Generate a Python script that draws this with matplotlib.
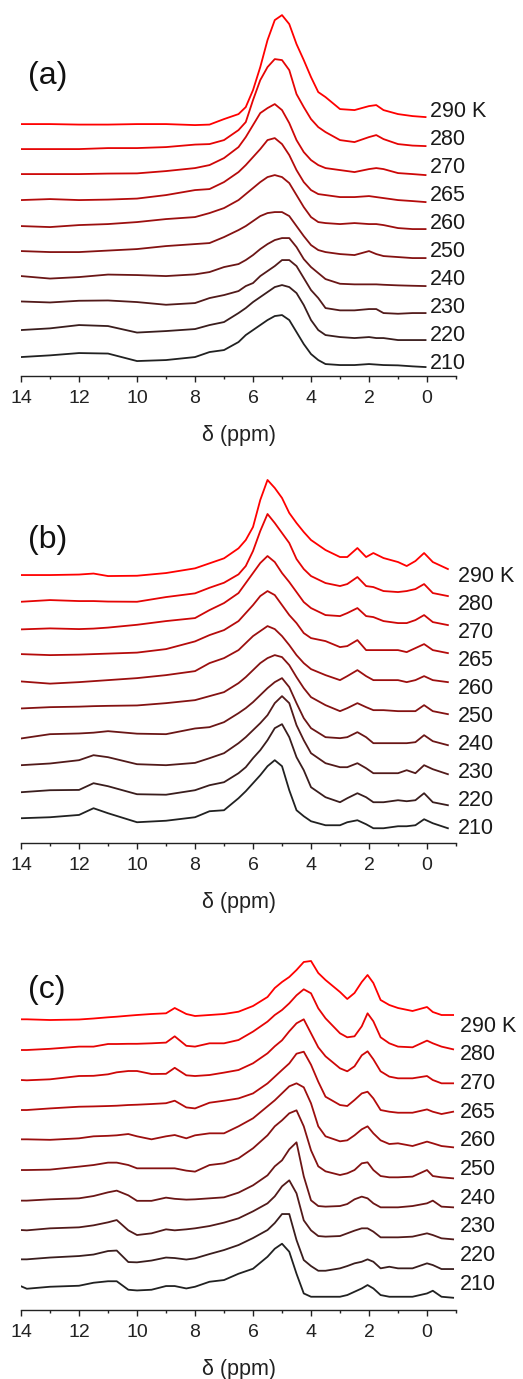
import matplotlib
matplotlib.use('Agg')
import matplotlib.pyplot as plt
from matplotlib.ticker import MultipleLocator

plt.rcParams['font.family'] = ['Liberation Sans', 'DejaVu Sans']

temps = ['210', '220', '230', '240', '250', '260', '265', '270', '280', '290 K']

# ---- panel (a) ----
ppm_a = [14, 13, 12, 11, 10, 9, 8, 7.5, 7, 6.5, 6.25, 6, 5.75, 5.5, 5.25, 5, 4.75,
         4.5, 4.25, 4, 3.75, 3.5, 3, 2.5, 2, 1.75, 1.5, 1, 0.5, 0.05]
base_a = [9, 36, 63, 90, 118, 147, 174, 201, 230, 259]
spec_a = [
    [10, 11.7, 14, 13.5, 6, 7, 10, 15, 17, 25, 32, 37, 42, 47, 51, 52, 47, 35, 23, 13, 7, 3, 2, 2, 3, 2.5, 2, 1.7, 0.7, 0],
    [10, 11.7, 15, 14, 7.5, 9, 11, 15, 18, 27, 32, 38, 43, 48, 53, 55, 53, 47, 35, 20, 10, 5, 3, 2, 3, 2, 2, 0, 0, 0],
    [11.6, 10.6, 12.3, 12.6, 11, 8.3, 10, 15, 18, 22, 27, 30, 37, 42, 47, 53, 53, 47, 35, 23, 15, 5, 2.7, 2.7, 4, 4, 0, -0.7, 0, 0],
    [10, 7.5, 9, 11.5, 11, 10, 11.7, 14, 19, 22, 26, 31, 37, 42, 46, 48, 48, 39, 27, 19, 13, 7, 2.3, 1.7, 1.7, 1.7, 1.3, 0.7, 0.3, 0],
    [7, 6, 6, 7.5, 9, 12, 14, 15, 21, 28, 32, 37, 42, 45, 46, 46, 42, 32, 22, 13, 8, 6, 4, 3, 7, 4, 2, 1, 0, 0],
    [3, 2, 4, 5, 7, 10, 12, 16, 21, 29, 35, 41, 47, 52, 54, 52, 46, 34, 22, 12, 7, 6, 5, 6, 5, 5, 4, 1, 0, 0],
    [2, 3, 2, 2.5, 3.5, 7, 12, 13, 20, 30, 37, 45, 53, 62, 64, 58, 47, 32, 20, 12, 8, 7, 5, 5, 6, 5, 4, 2, 1, 0],
    [1, 1, 1, 1.5, 1.7, 4, 7, 10, 17, 28, 38, 50, 62, 67, 71, 65, 52, 35, 23, 15, 10, 7, 5, 3, 6, 7, 6, 2, 1, 0],
    [-3, -3, -3, -2, -2, -1, 1.5, 2, 6, 16, 24, 46, 66, 79, 87, 86, 76, 52, 39, 27, 19, 14, 6, 4, 9, 11, 7, 2, 0.5, 0],
    [-7, -7, -7.5, -7.5, -7, -7, -8, -7.5, -2, 3, 10, 27, 50, 77, 97, 102, 93, 73, 57, 40, 25, 20, 8, 7, 11, 12, 7, 3, 1, 0],
]

# ---- panel (b) ----
ppm_b = [14, 13, 12, 11.5, 11, 10, 9, 8, 7.5, 7, 6.5, 6.25, 6, 5.75, 5.5, 5.25, 5,
         4.75, 4.5, 4.25, 4, 3.5, 3, 2.75, 2.4, 2.1, 1.85, 1.5, 1, 0.7, 0.4, 0.1, -0.2, -0.72]
base_b = [15, 38, 69, 98, 129, 161, 190, 218, 247, 274]
spec_b = [
    [10, 11, 13.3, 20, 15, 6, 7.5, 11, 17, 18, 30, 37, 45, 53, 62, 68, 62, 38, 18, 12, 7, 3, 3, 6, 8, 4, 0, 0, 2, 2, 3, 9, 5, 0],
    [13, 15, 15.3, 22, 19, 11, 10.5, 15, 20, 23, 32, 38, 47, 55, 65, 77, 81, 68, 48, 35, 18, 8, 3, 7, 12, 8, 3, 3, 5, 4, 5, 12, 3, 0],
    [9, 10.7, 14, 19, 17, 10, 9, 11.3, 16, 21, 31, 37, 44, 51, 59, 71, 78, 71, 49, 34, 21, 11, 7, 7, 11, 6, 1, 1, 1, 4, 1, 9, 5, 0],
    [6.7, 11, 11.7, 12.5, 14, 11.5, 11, 16.7, 18, 23, 32, 37, 43, 50, 57, 63, 67, 58, 42, 27, 17, 8, 7, 8, 13, 8, 2, 2, 2, 2, 3, 10, 4, 0],
    [5.7, 7, 7.5, 8, 8.3, 8.7, 11, 14, 18, 22, 31, 37, 44, 51, 56, 59, 57, 49, 37, 26, 17, 9, 3, 6, 11, 7, 4, 4, 3, 3, 3, 9, 3, 0],
    [0.7, -1.5, 0, 1, 2, 4, 7, 11, 19, 24, 32, 39, 46, 51, 56, 53, 46, 37, 27, 19, 13, 7, 2, 6, 12, 6, 2, 2, 2, 0, 2, 6, 2, 0],
    [-1, -2, -1.5, -1, -0.5, 0.5, 4, 11.7, 18, 23, 32, 40, 48, 57, 62, 58, 48, 38, 30, 20, 15, 12, 6, 7, 13, 3, 3, 3, 3, 1, 5, 9, 3, 0],
    [-4.3, -3.3, -4, -3.5, -2.5, 0.3, 4, 7, 15, 22, 32, 42, 52, 62, 69, 63, 52, 43, 33, 23, 17, 10, 9, 12, 17, 9, 8, 4, 2, 2, 5, 10, 3, 0],
    [-5.7, -4, -5, -5, -5.5, -5.7, -1, 2.7, 8.3, 13.3, 21.7, 30, 45, 65, 82, 73, 63, 53, 37, 27, 20, 13, 10, 12, 19, 10, 9, 5, 4, 5, 7, 12, 3, 0],
    [-6, -6, -5.5, -4.5, -7, -6.7, -4, 0.7, 5.7, 10.7, 20.7, 29, 42, 69, 89, 81, 71, 56, 46, 37, 29, 19, 12, 12, 21, 12, 16, 11, 7, 3, 8, 16, 7, 0],
]

# ---- panel (c) ----
ppm_c = [14, 13.8, 13, 12, 11.5, 11, 10.7, 10.3, 10, 9.5, 9, 8.7, 8.3, 8, 7.5, 7, 6.5, 6,
         5.5, 5.25, 5, 4.75, 4.5, 4.25, 4, 3.75, 3.5, 3, 2.75, 2.5, 2.25, 2.05, 1.85, 1.6,
         1.3, 1, 0.5, 0, -0.2, -0.5, -0.9]
base_c = [12.3, 41, 70.7, 102.7, 131.7, 162.7, 198.3, 226.7, 260.7, 295]
spec_c = [
    [11.5, 9, 11, 12, 15, 16.5, 16.5, 8, 7.3, 8, 11.7, 11.7, 9.3, 11, 16, 17.7, 24, 29, 41, 49, 54, 46, 24, 4.3, 1, 1, 1, 1, 2.7, 6, 9.3, 12.7, 9.3, 2.7, 1, 1, 1, 4.3, 7, 1, 0],
    [9.7, 9.7, 11.5, 13, 14.5, 18, 18.5, 7, 6.7, 8.5, 11.5, 11, 9.5, 10.7, 15, 19, 24, 31, 39, 46, 55, 55, 29, 9, 3, -1.7, -1.7, 0.7, 3, 5.7, 7.3, 9.7, 7.3, 0.7, 2.3, 0.7, 0.7, 5.7, 4, 0, 0],
    [9.3, 9, 11, 12, 14, 17, 19.3, 9, 4.3, 6, 10, 9, 10, 11, 13.3, 16.7, 21, 28, 36, 43, 53, 59, 46, 19, 9, 3.3, 2.7, 3.3, 6, 8.7, 11, 11, 7.7, 2, 2, 2, 2.7, 6, 4.3, 1, 0],
    [6.7, 6.7, 8, 9, 11.3, 15, 16.7, 12, 6.5, 6.5, 9.7, 8.5, 7.7, 8, 9, 10, 14.7, 22, 32, 41, 47, 58, 65, 31, 7, 1.3, 0.7, 1.3, 3.3, 8, 10.7, 9, 4, 0, 0, 0, 1.3, 4, 6.7, 0.7, 0],
    [8.3, 8.3, 8.7, 11.7, 13.3, 15.7, 15.7, 13.3, 10, 10, 10, 10, 7.7, 6.7, 13.3, 15, 20, 30, 43, 52, 58, 65, 68, 52, 28, 12, 7, 3.3, 5, 8.3, 15, 16, 8.3, 2.3, 1, 1, 1.7, 8.3, 2.3, 1, 0],
    [8, 8, 7.5, 9, 11, 11.5, 12, 13.3, 11, 8, 11, 12.3, 9, 12, 14, 14, 21, 29, 41, 47, 54, 61, 64, 60, 44, 21, 11, 6, 7, 12, 18, 21, 14, 7, 3.3, 4, 1.3, 5.7, 4, 1.3, 0],
    [1.7, 1.7, 3.3, 5, 5.3, 5.7, 6, 6.7, 7, 7.7, 8.5, 11, 4.3, 3.3, 9, 11, 13.3, 18.3, 28.3, 35, 41.7, 48.3, 58, 60, 47, 30, 15, 6.7, 5.7, 11.7, 18.3, 20, 13.3, 1.7, 0, -1, -1, 2.3, 0, -2.3, 0],
    [3.3, 3, 4, 7.3, 7.5, 9, 11, 12.3, 12.3, 9.3, 9.5, 15.5, 8, 7.3, 8.3, 10.7, 13.3, 20, 30, 37, 43, 52, 60, 64, 50, 36, 27, 15, 12, 17, 28, 32, 24, 12, 6.7, 5, 5, 7.3, 3.3, 0, 0],
    [-0.7, -0.7, 0.5, 2.7, 2.7, 5.3, 5.3, 5.5, 5.5, 6, 6.7, 13, 3.5, 2.7, 6, 6, 9.3, 17.7, 27.7, 34.3, 39.3, 46, 54, 60, 56, 41, 31, 16, 12, 13, 23, 36, 28, 12, 6, 2.7, 2, 8.7, 6, 2.7, 0],
    [-4.3, -4.3, -5, -4.5, -3.5, -2.3, -1.7, -0.7, 0, 1, 1.7, 7, 1, -1, 0, 1, 3.3, 9, 18, 27, 33, 38, 45, 53, 54, 42, 35, 23, 16, 22, 33, 40, 32, 15, 10, 7, 4, 8, 3, 0, 0],
]

fig = plt.figure(figsize=(5.23, 13.79), dpi=100)

# axes boxes in figure fraction, y-limits in pixel-like units
panels = [
    ('(a)', ppm_a, base_a, spec_a, [0.0402, 0.7273, 0.8317, 0.2690], 371, 12.7, 27.95, -0.1, 300),
    ('(b)', ppm_b, base_b, spec_b, [0.0402, 0.3885, 0.8317, 0.2707], 373, 15.0, 27.9, -1.07, 303),
    ('(c)', ppm_c, base_c, spec_c, [0.0402, 0.0500, 0.8317, 0.2611], 360, 25.7, 28.7, -1.14, 320),
]

for letter, ppm, base, spec, box, ytop, lab0, labstep, labx, lety in panels:
    ax = fig.add_axes(box)
    n = len(spec)
    for i in range(n):
        f = i / (n - 1)
        col = (0.13 + 0.87 * f, 0.13 * (1 - f), 0.13 * (1 - f))
        y = [base[i] + v for v in spec[i]]
        ax.plot(ppm, y, color=col, lw=1.3, solid_joinstyle='round')
        ax.text(labx, lab0 + labstep * i, temps[i], fontsize=15.5, color='#1a1a1a',
                ha='left', va='center', clip_on=False)
    ax.text(13.75, lety, letter, fontsize=23, color='#111111', ha='left', va='center')

    ax.set_xlim(14, -1)
    ax.set_ylim(0, ytop)
    for s in ['top', 'left', 'right']:
        ax.spines[s].set_visible(False)
    ax.spines['bottom'].set_linewidth(1.0)
    ax.spines['bottom'].set_color('#222222')
    ax.set_yticks([])
    ax.xaxis.set_major_locator(MultipleLocator(2))
    ax.xaxis.set_minor_locator(MultipleLocator(1))
    ax.tick_params(axis='x', which='major', length=4, width=1.0, direction='out',
                   labelsize=14, pad=6, colors='#222222')
    ax.tick_params(axis='x', which='minor', length=2.5, width=1.0, direction='out',
                   colors='#222222')
    ax.set_xticks([14, 12, 10, 8, 6, 4, 2, 0])
    ax.set_xticklabels(['14', '12', '10', '8', '6', '4', '2', '0'])
    ax.set_xlabel('δ (ppm)', fontsize=15.5, labelpad=13, color='#222222')
    ax.patch.set_alpha(0)

fig.savefig('out.png', dpi=100)
